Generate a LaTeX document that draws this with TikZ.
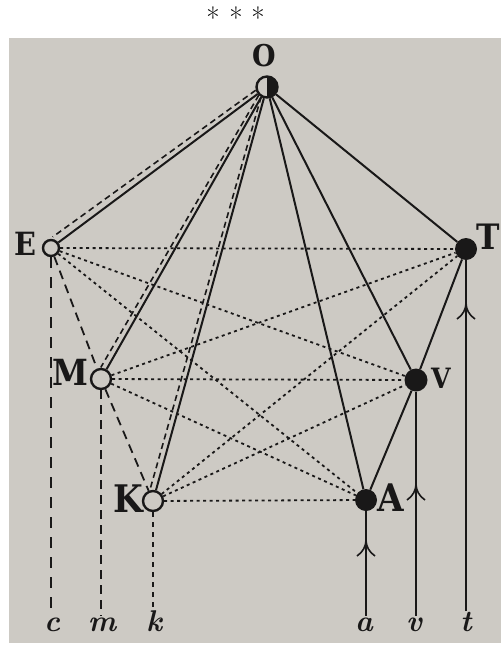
\documentclass[tikz,border=0pt]{standalone}
\usepackage{fontspec}
\usetikzlibrary{calc}
\newfontfamily\lblfont{DejaVu Serif}[FakeStretch=0.9]
\definecolor{paper}{RGB}{205,202,196}
\definecolor{ink}{RGB}{25,24,24}
\tikzset{
  solidline/.style={ink,line width=2pt},
  offdash/.style={ink,line width=1.6pt,dash pattern=on 6pt off 4pt},
  longdash/.style={ink,line width=1.8pt,dash pattern=on 9pt off 6pt},
  shortdash/.style={ink,line width=1.8pt,dash pattern=on 5pt off 5pt},
  dotline/.style={ink,line width=1.8pt,dash pattern=on 3pt off 3.5pt},
  opennode/.style={circle,draw=ink,line width=2.4pt,fill=paper,inner sep=0pt},
  fullnode/.style={circle,fill=ink,inner sep=0pt,minimum size=22pt},
  bigletter/.style={text=ink,font=\lblfont\bfseries\fontsize{#1}{#1}\selectfont,inner sep=0pt},
  footletter/.style={text=ink,font=\bfseries\itshape\fontsize{30}{34}\selectfont,inner sep=1pt,anchor=base},
  upmark/.pic={\draw[ink,line width=1.6pt] (-9,16) .. controls (-3,12) and (0,6) .. (0,0)
    .. controls (0,6) and (3,12) .. (9,16);}
}
\begin{document}
\begin{tikzpicture}[x=1pt,y=-1pt]
\useasboundingbox (0,0) rectangle (501,645);
\fill[paper] (9,38) rectangle (501,643);
\foreach \sx in {213,236,258}
  \node[font=\fontsize{29}{29}\selectfont,anchor=base,inner sep=0pt] at (\sx,28) {*};
% points
\node[opennode,minimum size=21pt,path picture={\fill[ink] (path picture bounding box.north) rectangle (path picture bounding box.south east);}] (O) at (267,87) {};
\node[opennode,minimum size=16pt] (E) at (51,248) {};
\node[opennode,minimum size=20pt] (M) at (101,379) {};
\node[opennode,minimum size=20pt] (K) at (153,501) {};
\node[fullnode] (T) at (466,249) {};
\node[fullnode,minimum size=23pt] (V) at (416,380) {};
\node[fullnode] (A) at (366,500) {};
% letters
\node[bigletter=30] (Olbl) at (264,56) {O};
\node[bigletter=32] (Elbl) at (25,244) {E};
\node[bigletter=36] (Mlbl) at (70,372) {M};
\node[bigletter=38] (Klbl) at (128,499) {K};
\node[bigletter=35] (Tlbl) at (488,237) {T};
\node[bigletter=28] (Vlbl) at (441,378) {V};
\node[bigletter=38] (Albl) at (391,498) {A};
\node[footletter] (c) at (52,631) {c};
\node[footletter] (m) at (102,631) {m};
\node[footletter] (k) at (154,631) {k};
\node[footletter] (a) at (364,631) {a};
\node[footletter] (v) at (414,631) {v};
\node[footletter] (t) at (466,631) {t};
% rays from O
\foreach \n in {E,M,K,V,A,T}
  \draw[solidline] (O) -- (\n);
\draw[offdash,shorten <=11pt,shorten >=8pt] ($(O)!4pt!-90:(E)$) -- ($(E)!8pt!90:(O)$);
\foreach \n in {M,K}
  \draw[offdash,shorten <=11pt,shorten >=10pt] ($(O)!3pt!-90:(\n)$) -- ($(\n)!6pt!90:(O)$);
% left column and the dotted web
\draw[longdash] (E) -- (M);
\draw[longdash] (M) -- (K);
\foreach \a in {E,M,K}
  \foreach \b in {T,V,A}
    \draw[dotline] (\a) -- (\b);
\draw[solidline] (T) -- (V);
\draw[solidline] (V) -- (A);
% verticals
\draw[longdash,dash pattern=on 11pt off 9pt] (E) -- (E |- c.north);
\draw[longdash] (M) -- (M |- m.north);
\draw[shortdash] (K) -- (K |- k.north);
\draw[solidline] (A) -- (A |- a.north);
\draw[solidline] (V) -- (V |- v.north);
\draw[solidline] (T) -- (T |- t.north);
\path (T.center) ++(0,54) pic {upmark};
\path (V.center) ++(0,104) pic {upmark};
\path (A.center) ++(0,40) pic {upmark};
\end{tikzpicture}
\end{document}
